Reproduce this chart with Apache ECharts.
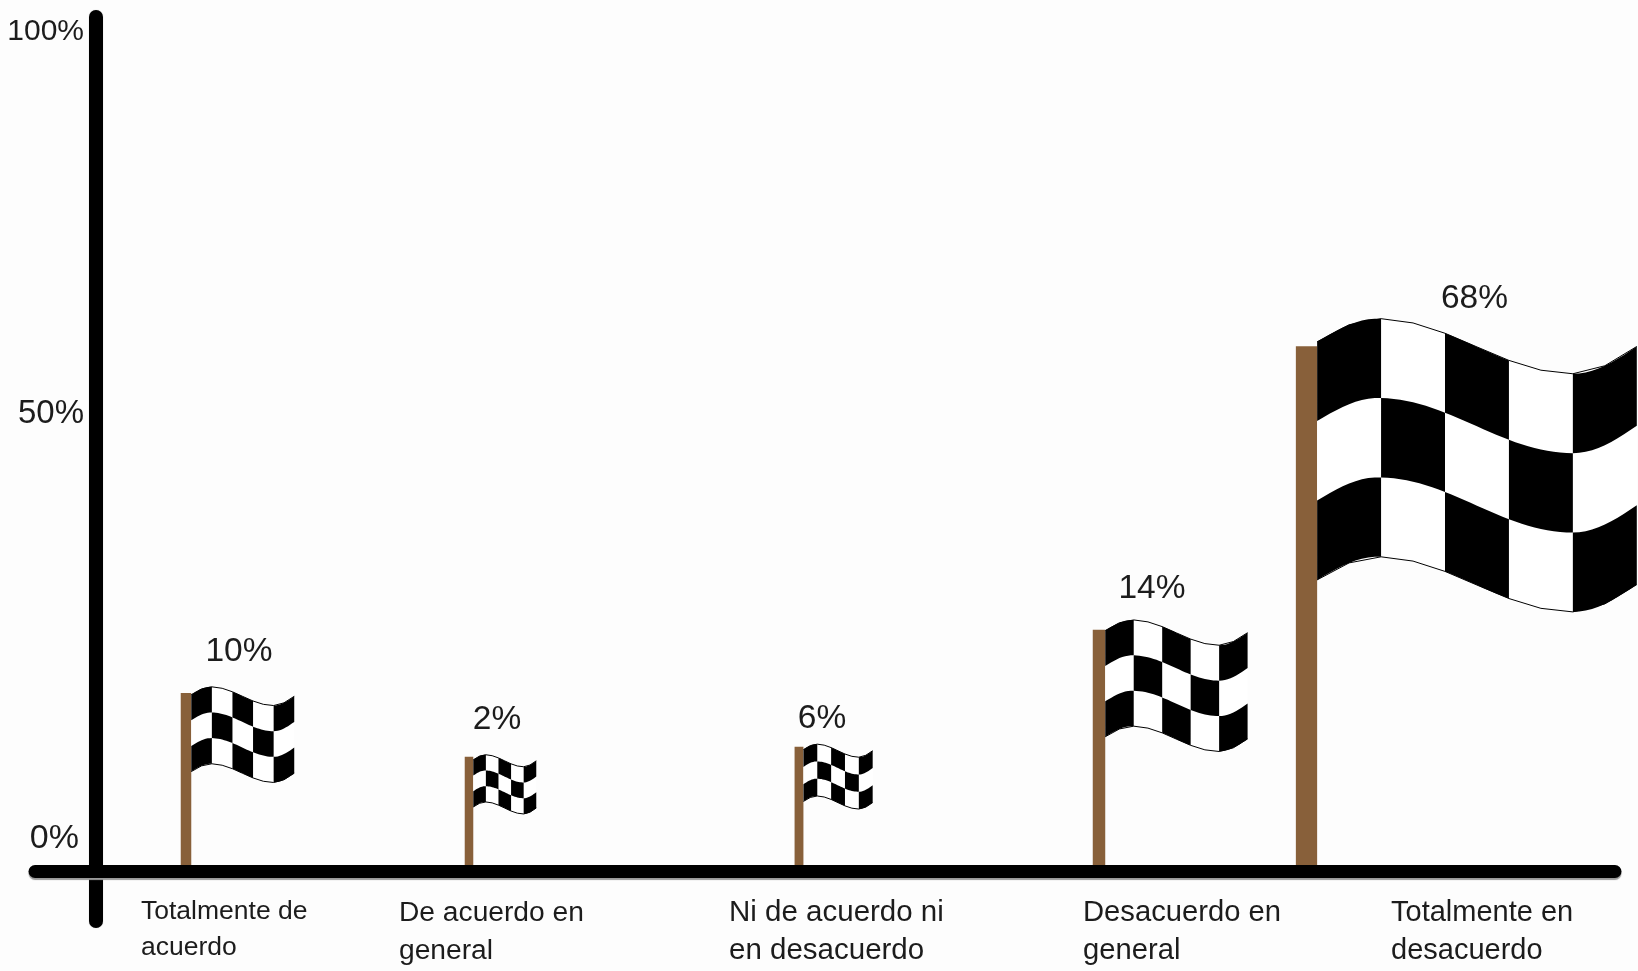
<!DOCTYPE html>
<html lang="es">
<head>
<meta charset="utf-8">
<title>Grado de acuerdo</title>
<style>html,body{margin:0;padding:0;background:#fdfdfd}#chart{width:1638px;height:971px}</style>
<script src="https://cdn.jsdelivr.net/npm/echarts@6/dist/echarts.min.js"></script>
</head>
<body>
<div id="chart"></div>
<script>
// Survey answers and their shares
const categories = [
  'Totalmente de\nacuerdo',
  'De acuerdo en\ngeneral',
  'Ni de acuerdo ni\nen desacuerdo',
  'Desacuerdo en\ngeneral',
  'Totalmente en\ndesacuerdo'
];
const values = [10, 2, 6, 14, 68];
const yTickValues = [0, 50, 100];

// The vertical scale is not uniform: each stretch between these values is
// compressed to its own share of the axis length.
const scaleStretches = [
  { start: 2, end: 6, gap: '1.106%' },
  { start: 6, end: 10, gap: '5.97%' },
  { start: 10, end: 14, gap: '6.97%' },
  { start: 14, end: 50, gap: '24.3%' },
  { start: 50, end: 68, gap: '7.08%' },
  { start: 68, end: 100, gap: '34.96%' }
];
const yMin = -0.87;
const yMax = 100.23;

// Horizontal placement relative to each category's band centre
const poleShift = [-7, -40, -26, -42, -150.5];
const captionShift = [-52, -110, -96, -58, -66];
const captionSize = [26.5, 28.2, 29.5, 29.2, 29];
const captionLine = [36, 38, 38, 38, 38];
const valueLabelDx = [53, 28, 23, 53, 168];
const valueLabelDy = [41, 37, 28, 41, 47];

const FONT = '"Liberation Sans", Arial, sans-serif';
const INK = '#1c1c1c';
const POLE = '#88603a';

// Vertical displacement of the cloth at position u (0..1), in pole heights
function wave(u) {
  if (u < 0.19) return 0.044 * (1 - Math.cos((Math.PI / 2) * (0.19 - u) / 0.19));
  if (u < 0.8) return 0.105 * (1 - Math.cos(Math.PI * (u - 0.19) / 0.61)) / 2;
  return 0.105 - 0.052 * (1 - Math.cos((Math.PI / 2) * (u - 0.8) / 0.2));
}

function edge(x0, w, y0, h, u0, u1, reverse) {
  const pts = [];
  for (let s = 0; s <= 10; s++) {
    const u = u0 + (u1 - u0) * s / 10;
    pts.push([x0 + u * w, y0 + wave(u) * h]);
  }
  return reverse ? pts.reverse() : pts;
}

function renderFlag(params, api) {
  const idx = api.value(0);
  const value = api.value(1);
  const base = api.coord([idx, 0]);
  const top = api.coord([idx, value]);
  const h = base[1] - top[1];
  const cx = base[0] + poleShift[idx];
  const poleW = 5 + 0.031 * h;
  const clothX = cx + poleW / 2;
  const clothW = 0.625 * h - 8.5;
  const peakY = top[1] - (0.062 * h - 5);
  const rowH = 0.155 * h - 2;
  const children = [];

  // Pole, from the baseline to the value
  children.push({
    type: 'rect',
    shape: { x: cx - poleW / 2, y: top[1], width: poleW, height: h },
    style: { fill: POLE }
  });

  // White cloth with a thin outline along the top and bottom hems
  children.push({
    type: 'polygon',
    shape: { points: edge(clothX, clothW, peakY, h, 0, 1).concat(edge(clothX, clothW, peakY + 3 * rowH, h, 0, 1, true)) },
    style: { fill: '#ffffff' }
  });
  [0, 3].forEach(function (row) {
    children.push({
      type: 'polyline',
      shape: { points: edge(clothX, clothW, peakY + row * rowH, h, 0, 1) },
      style: { stroke: '#000', fill: null, lineWidth: 1 }
    });
  });

  // Checker squares
  for (let row = 0; row < 3; row++) {
    for (let col = 0; col < 5; col++) {
      if ((row + col) % 2) continue;
      const u0 = col / 5;
      const u1 = (col + 1) / 5;
      children.push({
        type: 'polygon',
        shape: {
          points: edge(clothX, clothW, peakY + row * rowH, h, u0, u1)
            .concat(edge(clothX, clothW, peakY + (row + 1) * rowH, h, u0, u1, true))
        },
        style: { fill: '#000' }
      });
    }
  }

  // Share above the flag
  children.push({
    type: 'text',
    style: {
      text: value + '%',
      x: cx + valueLabelDx[idx],
      y: top[1] - valueLabelDy[idx],
      align: 'center',
      verticalAlign: 'middle',
      fontFamily: FONT,
      fontSize: 33.5,
      fill: INK
    }
  });

  // Category caption under the baseline
  children.push({
    type: 'text',
    style: {
      text: categories[idx],
      x: base[0] + captionShift[idx],
      y: 894,
      align: 'left',
      verticalAlign: 'top',
      fontFamily: FONT,
      fontSize: captionSize[idx],
      lineHeight: captionLine[idx],
      fill: INK
    }
  });

  return { type: 'group', children: children };
}

const chart = echarts.init(document.getElementById('chart'), null, { renderer: 'canvas' });

chart.setOption({
  backgroundColor: '#fdfdfd',
  animation: false,
  grid: { left: 35, right: 23, top: 17, bottom: 50 },
  xAxis: {
    type: 'category',
    data: categories,
    z: 5,
    axisLine: {
      onZero: true,
      onZeroAxisIndex: 0,
      lineStyle: { color: '#000', width: 13, cap: 'round', shadowColor: '#9a9a9a', shadowOffsetY: 2, shadowBlur: 1 }
    },
    axisTick: { show: false },
    axisLabel: { show: false }
  },
  yAxis: [
    {
      // Carries the ticks and the scale of the marks
      type: 'value',
      position: 'left',
      min: yMin,
      max: yMax,
      offset: -61,
      z: 6,
      breaks: scaleStretches,
      breakArea: { show: false },
      splitLine: { show: false },
      axisTick: { show: false },
      axisLine: { show: false },
      axisLabel: {
        customValues: yTickValues,
        margin: 12,
        color: INK,
        fontFamily: FONT,
        formatter: function (v) { return '{t' + v + '|' + v + '%}'; },
        rich: {
          t0: { fontSize: 34, fontFamily: FONT, color: INK, padding: [0, 5, 66, 0] },
          t50: { fontSize: 33, fontFamily: FONT, color: INK, padding: [8, 0, 0, 0] },
          t100: { fontSize: 30, fontFamily: FONT, color: INK, padding: [4, 0, 0, 0] }
        }
      }
    },
    {
      // Draws the unbroken vertical rule
      type: 'value',
      position: 'left',
      min: yMin,
      max: yMax,
      offset: -61,
      z: 5,
      splitLine: { show: false },
      axisTick: { show: false },
      axisLabel: { show: false },
      axisLine: {
        show: true,
        onZero: false,
        lineStyle: { color: '#000', width: 14, cap: 'round', shadowColor: '#aaaaaa', shadowBlur: 1 }
      }
    }
  ],
  series: [{
    type: 'custom',
    name: 'Respuestas',
    coordinateSystem: 'cartesian2d',
    yAxisIndex: 0,
    clip: false,
    z: 2,
    encode: { x: 0, y: 1 },
    data: values.map(function (v, i) { return [i, v]; }),
    renderItem: renderFlag
  }]
});
</script>
</body>
</html>
